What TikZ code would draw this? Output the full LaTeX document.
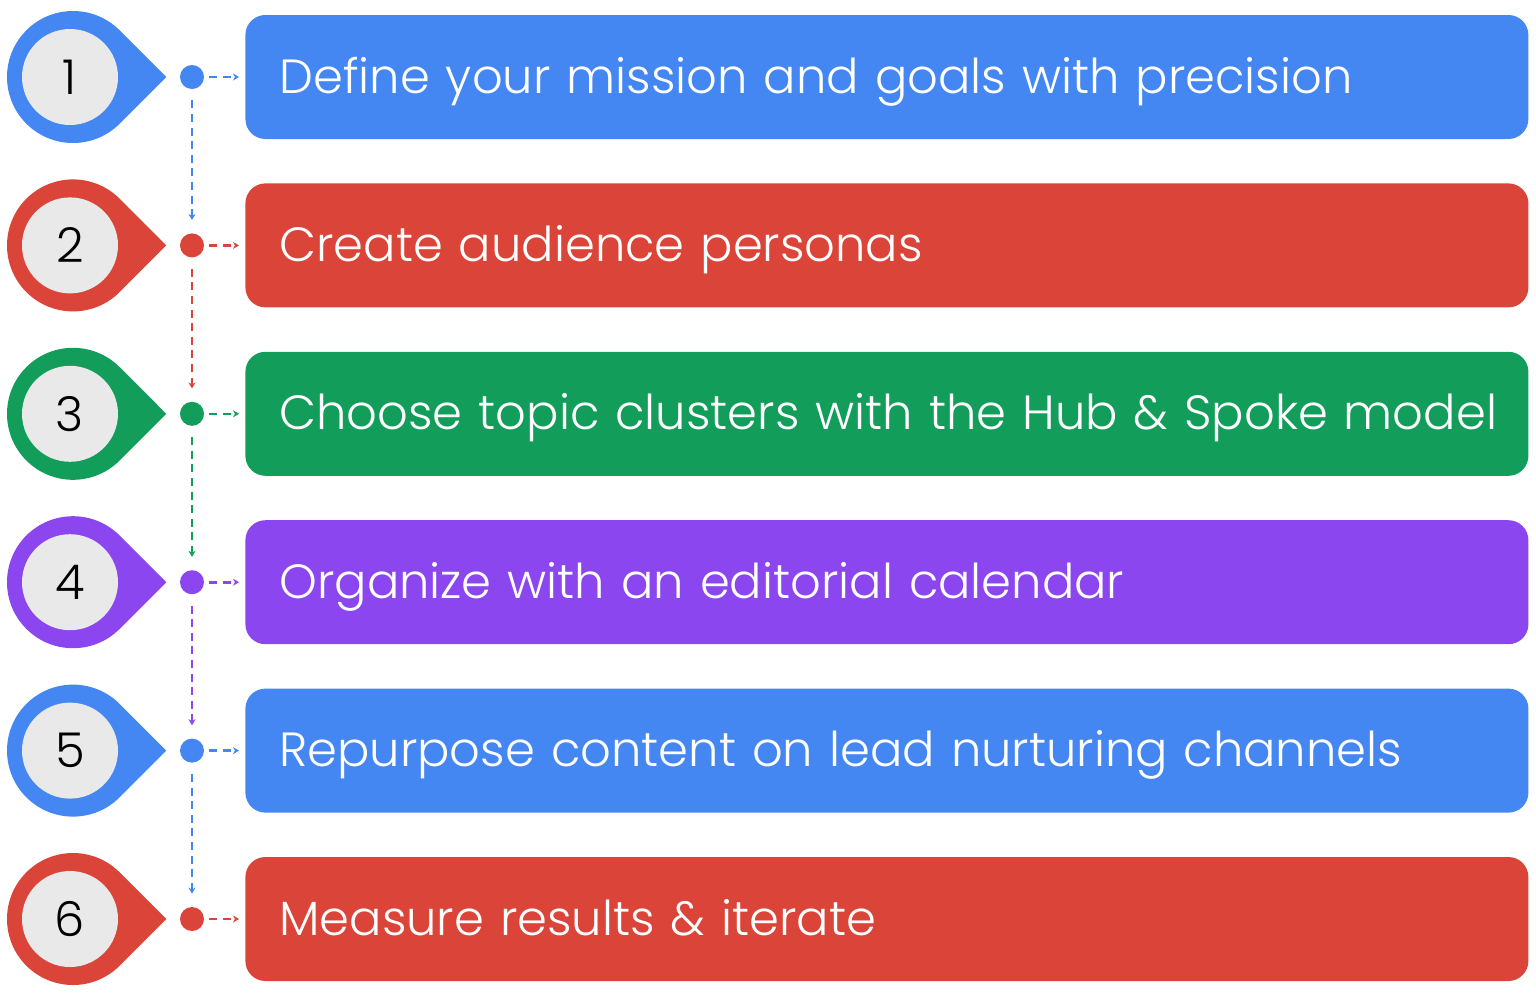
\documentclass[tikz,border=0pt]{standalone}
\usepackage{fontspec}
\setmainfont{Poppins}
\newfontfamily\lightfont{Poppins Light}
\usetikzlibrary{arrows.meta,positioning,calc}

\definecolor{gblue}{HTML}{4487F2}
\definecolor{gred}{HTML}{DB4539}
\definecolor{ggreen}{HTML}{139D5A}
\definecolor{gpurple}{HTML}{8B46F0}
\definecolor{pinface}{HTML}{E8E9E8}

\tikzset{
  stepbox/.style = {rectangle, rounded corners=10pt, minimum height=62pt, inner xsep=17pt,
                    text width=607.5pt, text height=20pt, text depth=4pt, align=left, text=white,
                    font=\lightfont\fontsize{24}{28}\selectfont},
  pinface/.style = {circle, fill=pinface, minimum size=48pt, inner sep=0pt,
                    font=\lightfont\fontsize{24}{24}\selectfont},
  stepdot/.style = {circle, minimum size=12pt, inner sep=0pt},
  link/.style = {line width=1.3pt, dash pattern=on 4pt off 2.8pt, -{Stealth[length=3pt,width=3.5pt]}}
}

\begin{document}
\begin{tikzpicture}[x=0.5pt, y=-0.5pt]
\useasboundingbox (0,0) rectangle (1536,997);

\foreach \n/\col/\txt [count=\i from 0] in {
    1/gblue/Define your mission and goals with precision,
    2/gred/Create audience personas,
    3/ggreen/Choose topic clusters with the Hub \& Spoke model,
    4/gpurple/Organize with an editorial calendar,
    5/gblue/Repurpose content on lead nurturing channels,
    6/gred/Measure results \& iterate}{
  \coordinate (c\n) at (73,{77+168.4*\i});
  % pin marker
  \fill[\col] ($(c\n)+(93.3,0)$) -- ($(c\n)+(45:66)$) arc[start angle=45, end angle=315, radius=66] -- cycle;
  \node[pinface] (num\n) at ($(c\n)+(-3,0)$) {\n};
  \node[stepdot, fill=\col] (dot\n) at (192,{77+168.4*\i}) {};
  \node[stepbox, fill=\col, anchor=west] (box\n) at (245,{77+168.4*\i}) {\mbox{\txt}};
  \draw[link, \col, shorten <=2.5pt, shorten >=3pt] (dot\n) -- (box\n);
}

\foreach \a/\b/\col in {1/2/gblue, 2/3/gred, 3/4/ggreen, 4/5/gpurple, 5/6/gblue}
  \draw[link, \col, shorten <=5.5pt, shorten >=6.5pt] (dot\a) -- (dot\b);
\end{tikzpicture}
\end{document}
